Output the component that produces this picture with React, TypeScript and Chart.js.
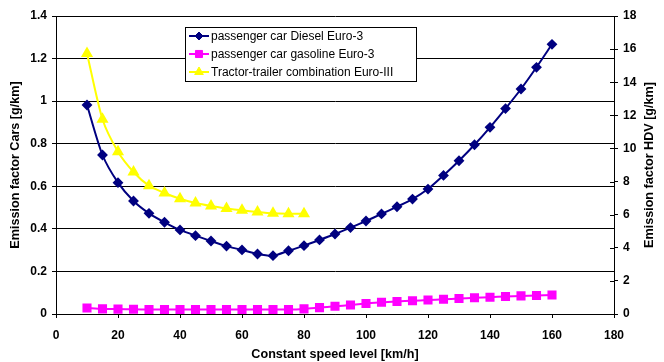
import { useEffect, useRef } from 'react';
import { Chart, registerables } from 'chart.js';
import { drawPoint } from 'chart.js/helpers';

Chart.register(...registerables);

// Constant speed levels [km/h]
const carSpeeds = [
  10, 15, 20, 25, 30, 35, 40, 45, 50, 55, 60, 65, 70, 75, 80, 85,
  90, 95, 100, 105, 110, 115, 120, 125, 130, 135, 140, 145, 150, 155, 160,
];
const hdvSpeeds = [10, 15, 20, 25, 30, 35, 40, 45, 50, 55, 60, 65, 70, 75, 80];

// Emission factors [g/km]
const dieselCar = [
  0.982, 0.747, 0.617, 0.531, 0.473, 0.431, 0.395, 0.368, 0.343, 0.319, 0.301,
  0.282, 0.274, 0.297, 0.321, 0.348, 0.376, 0.406, 0.437, 0.47, 0.504, 0.54,
  0.587, 0.651, 0.72, 0.795, 0.877, 0.965, 1.057, 1.159, 1.267,
];
const gasolineCar = [
  0.028, 0.024, 0.023, 0.022, 0.021, 0.021, 0.021, 0.021, 0.021, 0.021, 0.021,
  0.021, 0.021, 0.021, 0.024, 0.03, 0.036, 0.042, 0.049, 0.055, 0.059, 0.062,
  0.066, 0.069, 0.073, 0.076, 0.079, 0.082, 0.085, 0.087, 0.089,
];
const tractorTrailer = [
  15.74, 11.76, 9.8, 8.58, 7.75, 7.31, 6.96, 6.7, 6.52, 6.38, 6.26, 6.16, 6.08,
  6.06, 6.06,
];

const seriesLabels = [
  'passenger car Diesel Euro-3',
  'passenger car gasoline Euro-3',
  'Tractor-trailer combination Euro-III',
];

const axisTitles = {
  x: 'Constant speed level [km/h]',
  cars: 'Emission factor Cars [g/km]',
  hdv: 'Emission factor HDV [g/km]',
};

const FONT = "'Liberation Sans', Arial, sans-serif";
const TITLE_SIZE = 12.6;

const pairs = (xs: number[], ys: number[]) => xs.map((x, i) => ({ x, y: ys[i] }));

// Boxed legend placed inside the plot area
const boxLegend = {
  id: 'boxLegend',
  afterDraw(chart: any) {
    const ctx = chart.ctx;
    const x0 = 185.5;
    const y0 = 27.5;
    const w = 231;
    const h = 54;
    ctx.save();
    ctx.fillStyle = '#fff';
    ctx.fillRect(x0, y0, w, h);
    ctx.strokeStyle = '#000';
    ctx.lineWidth = 1;
    ctx.strokeRect(x0, y0, w, h);
    ctx.font = `12px ${FONT}`;
    ctx.textBaseline = 'middle';
    chart.data.datasets.forEach((ds: any, i: number) => {
      const cy = 36 + i * 18;
      ctx.strokeStyle = ds.borderColor;
      ctx.lineWidth = 2;
      ctx.beginPath();
      ctx.moveTo(189, cy);
      ctx.lineTo(209, cy);
      ctx.stroke();
      ctx.fillStyle = ds.pointBackgroundColor;
      ctx.strokeStyle = ds.pointBorderColor;
      ctx.lineWidth = 1;
      drawPoint(ctx, { pointStyle: ds.pointStyle, radius: ds.pointRadius, borderWidth: 1, rotation: 0 }, 199, cy);
      ctx.fillStyle = '#000';
      ctx.fillText(ds.label, 211, cy + 0.5);
    });
    ctx.restore();
  },
};

// Right axis: tick marks cross the axis line, title reads bottom-to-top
const rightAxisExtras = {
  id: 'rightAxisExtras',
  afterDraw(chart: any) {
    const s = chart.scales.yHdv;
    const ctx = chart.ctx;
    ctx.save();
    ctx.strokeStyle = '#000';
    ctx.lineWidth = 1;
    s.ticks.forEach((t: any) => {
      const y = Math.round(s.getPixelForValue(t.value)) + 0.5;
      ctx.beginPath();
      ctx.moveTo(s.left - 4, y);
      ctx.lineTo(s.left, y);
      ctx.stroke();
    });
    ctx.translate(650, (s.top + s.bottom) / 2);
    ctx.rotate(-Math.PI / 2);
    ctx.font = `bold ${TITLE_SIZE}px ${FONT}`;
    ctx.fillStyle = '#000';
    ctx.textAlign = 'center';
    ctx.textBaseline = 'middle';
    ctx.fillText(axisTitles.hdv, 0, 0);
    ctx.restore();
  },
};

export default function App() {
  const ref = useRef<HTMLCanvasElement>(null);

  useEffect(() => {
    document.body.style.margin = '0';
    const tickFont = { family: FONT, size: 12, weight: 'bold' as const };
    const titleFont = { family: FONT, size: TITLE_SIZE, weight: 'bold' as const };
    const chart = new Chart(ref.current!, {
      type: 'line',
      data: {
        datasets: [
          {
            label: seriesLabels[0],
            data: pairs(carSpeeds, dieselCar),
            yAxisID: 'yCar',
            borderColor: '#000080',
            backgroundColor: '#000080',
            pointBackgroundColor: '#000080',
            pointBorderColor: '#000080',
            pointStyle: 'rectRot',
            pointRadius: 4,
            borderWidth: 2,
            tension: 0.25,
          },
          {
            label: seriesLabels[1],
            data: pairs(carSpeeds, gasolineCar),
            yAxisID: 'yCar',
            borderColor: '#FF00FF',
            backgroundColor: '#FF00FF',
            pointBackgroundColor: '#FF00FF',
            pointBorderColor: '#FF00FF',
            pointStyle: 'rect',
            pointRadius: 5,
            borderWidth: 2,
            tension: 0.25,
          },
          {
            label: seriesLabels[2],
            data: pairs(hdvSpeeds, tractorTrailer),
            yAxisID: 'yHdv',
            borderColor: '#FFFF00',
            backgroundColor: '#FFFF00',
            pointBackgroundColor: '#FFFF00',
            pointBorderColor: '#FFFF00',
            pointStyle: 'triangle',
            pointRadius: 5,
            borderWidth: 2,
            tension: 0.25,
          },
        ],
      },
      options: {
        responsive: false,
        animation: false,
        layout: { padding: { top: 16, left: 0, right: 0, bottom: 0 } },
        plugins: { legend: { display: false }, tooltip: { enabled: false } },
        scales: {
          x: {
            type: 'linear',
            min: 0,
            max: 180,
            afterFit: (s: any) => { s.height = 48; },
            ticks: { stepSize: 20, color: '#000', font: tickFont, padding: 10, maxRotation: 0 },
            grid: { drawOnChartArea: false, tickLength: 4, color: '#000' },
            border: { color: '#000', width: 1 },
            title: {
              display: true,
              text: axisTitles.x,
              color: '#000',
              font: titleFont,
              padding: { top: 0, bottom: 0 },
            },
          },
          yCar: {
            type: 'linear',
            position: 'left',
            min: 0,
            max: 1.4,
            afterFit: (s: any) => { s.width = 56; },
            ticks: {
              stepSize: 0.2,
              color: '#000',
              font: tickFont,
              padding: 5,
              callback: (v: any) => String(Math.round(Number(v) * 10) / 10),
            },
            grid: { color: '#000', tickLength: 4 },
            border: { color: '#000', width: 1 },
            title: {
              display: true,
              text: axisTitles.cars,
              color: '#000',
              font: titleFont,
              padding: { top: 8, bottom: 0 },
            },
          },
          yHdv: {
            type: 'linear',
            position: 'right',
            min: 0,
            max: 18,
            afterFit: (s: any) => { s.width = 50; },
            ticks: { stepSize: 2, color: '#000', font: tickFont, padding: 5 },
            grid: { drawOnChartArea: false, tickLength: 4, color: '#000' },
            border: { color: '#000', width: 1 },
          },
        },
      },
      plugins: [rightAxisExtras, boxLegend],
    });
    return () => chart.destroy();
  }, []);

  return (
    <div style={{ position: 'absolute', left: 0, top: 0, width: 664, height: 362, background: '#fff' }}>
      <canvas ref={ref} width={664} height={362} />
    </div>
  );
}
